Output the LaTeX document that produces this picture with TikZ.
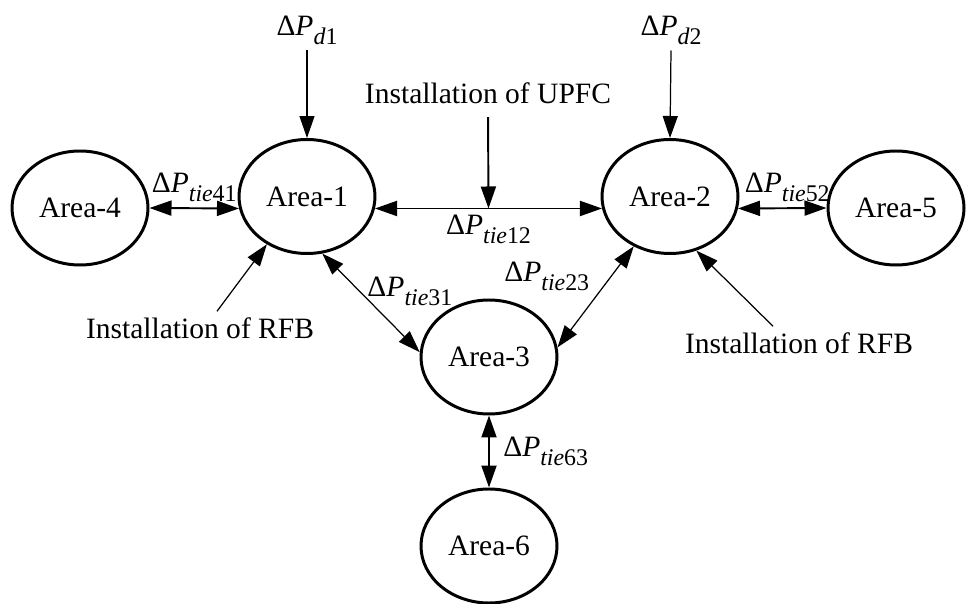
\documentclass[tikz,border=0pt]{standalone}
\usepackage{fontspec}
\setmainfont{Liberation Serif}
\usetikzlibrary{shapes.geometric,arrows.meta}
\newcommand{\dP}[2]{Δ\textit{P}\raisebox{-0.3em}{\fontsize{13.6}{13.6}\selectfont\textit{#1}#2}}

\begin{document}
\begin{tikzpicture}[font=\fontsize{16.8}{20}\selectfont,
  area/.style={draw, ellipse, line width=1.7pt, minimum width=2.72cm,
               minimum height=2.28cm, inner sep=0pt},
  tip/.style={-{Triangle[length=0.44cm,width=0.3cm]}, line width=#1},
  tie/.style={{Triangle[length=0.44cm,width=0.3cm]}-{Triangle[length=0.44cm,width=0.3cm]},
              line width=#1}
]
  \useasboundingbox (0,0) rectangle (19.36,12.06);

  % areas
  \node[area] (a1) at (6.14, 8.13)  {Area-1};
  \node[area] (a2) at (13.40, 8.13) {Area-2};
  \node[area] (a3) at (9.78, 4.92)  {Area-3};
  \node[area] (a4) at (1.60, 7.90)  {Area-4};
  \node[area] (a5) at (17.92, 7.90) {Area-5};
  \node[area] (a6) at (9.78, 1.14)  {Area-6};

  % inputs
  \node (d1)   at (6.14, 11.46)  {\dP{d}{1}};
  \node (d2)   at (13.42, 11.46) {\dP{d}{2}};
  \node (upfc) at (9.76, 10.20)  {Installation of UPFC};
  \node (rfbL) at (4.00, 5.50)   {Installation of RFB};
  \node (rfbR) at (15.98, 5.20)  {Installation of RFB};

  % tie lines
  \draw[tie=1.1pt] (a4.east) -- node[above] {\dP{tie}{41}} (a1.190);
  \draw[tie=1.1pt] (a1.-10) -- coordinate[midway] (m12)
        node[midway, below] {\dP{tie}{12}} (a2.190);
  \draw[tie=1.1pt] (a2.-10) -- node[above, xshift=0.1cm] {\dP{tie}{52}} (a5.west);
  \draw[tie=1.1pt] (a3.south) -- node[right, xshift=0.15cm] {\dP{tie}{63}} (a6.north);
  \draw[tie=0.7pt] (a1.-75) -- node[above right, xshift=-0.2cm, yshift=-0.18cm] {\dP{tie}{31}} (a3.176);
  \draw[tie=0.7pt] (a3.8) -- node[above left] {\dP{tie}{23}} (a2.234);

  % disturbances and devices
  \draw[tip=0.7pt] (d1.south) -- (a1.north);
  \draw[tip=0.7pt] (d2.south) -- (a2.north);
  \draw[tip=1.1pt, shorten <=0.15cm] (upfc.south) -- (m12);
  \draw[tip=0.7pt] ([xshift=0.34cm]rfbL.north) -- (a1.230);
  \draw[tip=0.7pt] ([xshift=-0.52cm]rfbR.north) -- (a2.-64);
\end{tikzpicture}
\end{document}
